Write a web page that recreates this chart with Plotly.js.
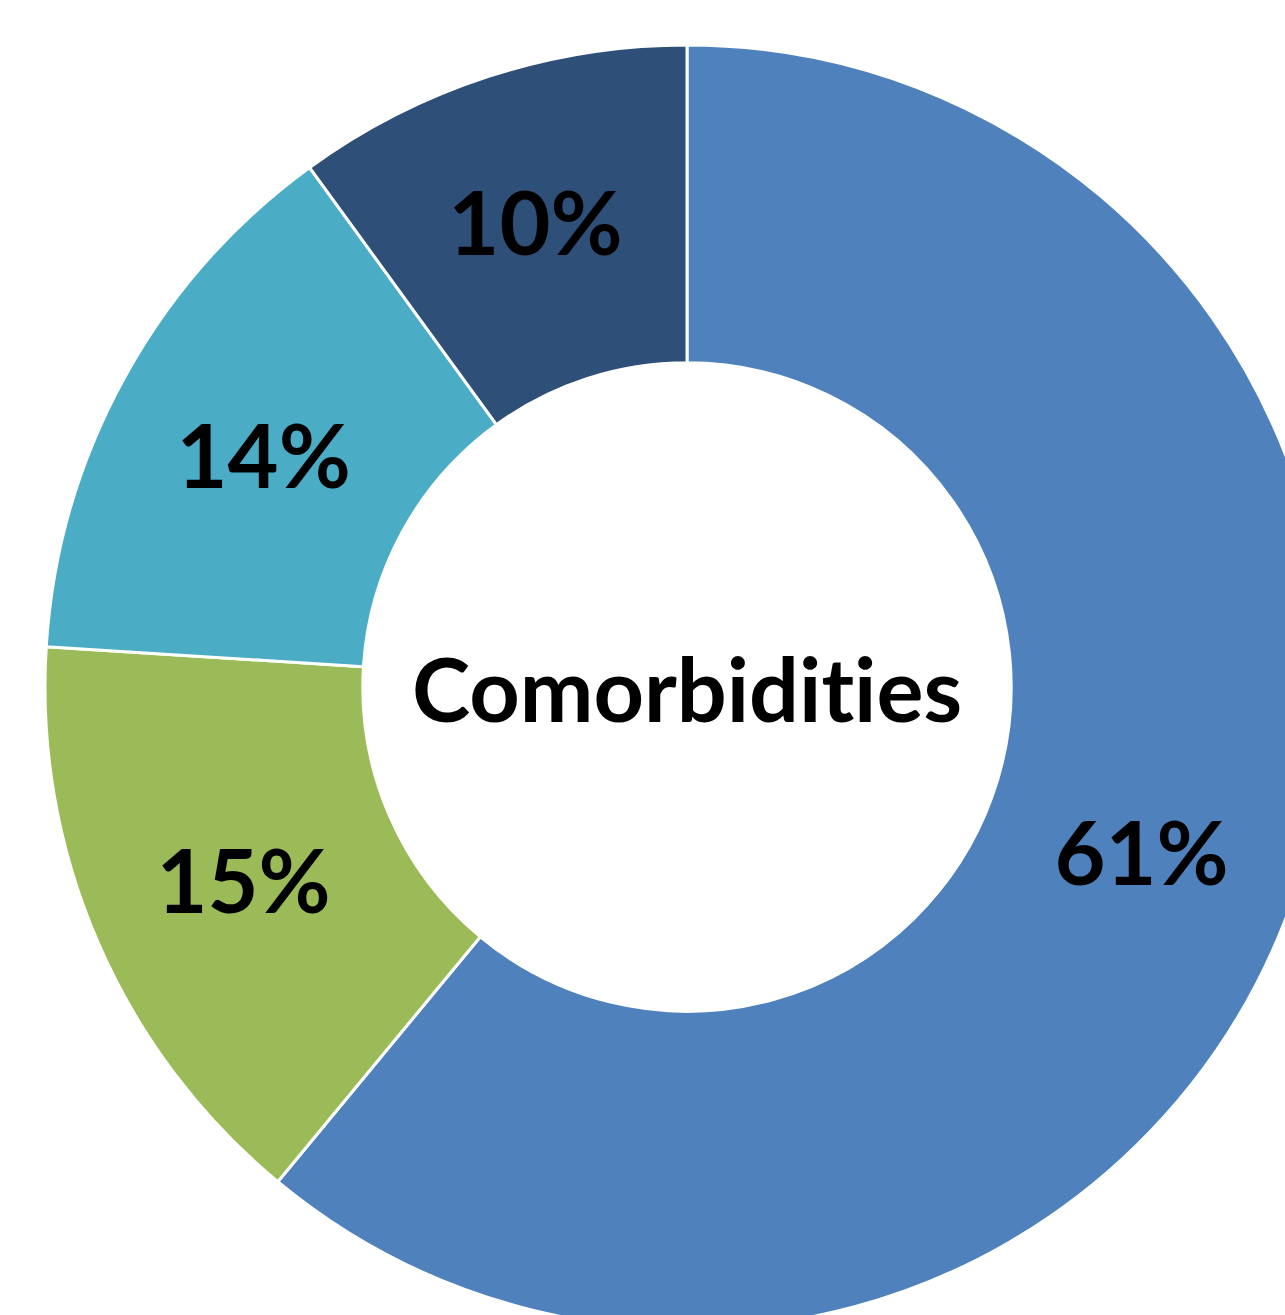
<!DOCTYPE html>
<html>
<head>
<meta charset="utf-8">
<script src="https://cdn.plot.ly/plotly-3.0.1.min.js"></script>
<style>
html,body{margin:0;padding:0;overflow:hidden;background:#fff;width:1285px;height:1315px;}
#chart{width:1374px;height:1374px;}
#chart text{font-variant-ligatures:none;font-feature-settings:"liga" 0, "clig" 0;}
</style>
</head>
<body>
<div id="chart"></div>
<script>
const categories = ["Category A", "Category B", "Category C", "Category D"];
const values = [61, 15, 14, 10];
const colors = ["#4F81BD", "#9BBB59", "#4BACC6", "#2E4F78"];
const centerLabel = "Comorbidities";

const trace = {
  type: "pie",
  labels: categories,
  values: values,
  hole: 0.505,
  sort: false,
  direction: "clockwise",
  rotation: 0,
  marker: {colors: colors, line: {color: "#ffffff", width: 3}},
  textinfo: "percent",
  texttemplate: "%{percent:.0%}",
  textposition: "inside",
  insidetextorientation: "horizontal",
  textfont: {family: "Lato, 'Open Sans', sans-serif", size: 88, color: "#000000", weight: "bold"},
  title: {text: centerLabel, position: "middle center", font: {family: "Lato, 'Open Sans', sans-serif", size: 88, color: "#000000", weight: "bold"}},
  showlegend: false,
  hoverinfo: "label+percent"
};

const layout = {
  width: 1374, height: 1374,
  margin: {l: 45, r: 45, t: 45, b: 45},
  paper_bgcolor: "#ffffff",
  showlegend: false
};

Plotly.newPlot("chart", [trace], layout, {staticPlot: true, displayModeBar: false});
</script>
</body>
</html>
